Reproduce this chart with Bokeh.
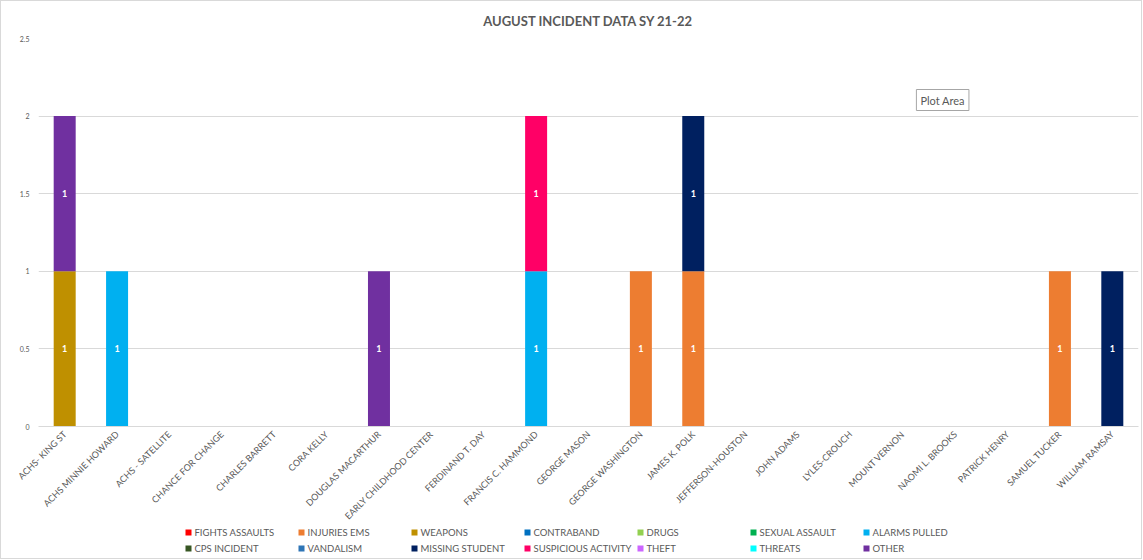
from bokeh.plotting import figure
from bokeh.layouts import column
from bokeh.models import ColumnDataSource, Label, FactorRange, FixedTicker, Range1d
from bokeh.core.properties import value
from bokeh.embed import file_html
from bokeh.resources import INLINE
import math

schools = ["ACHS- KING ST", "ACHS MINNIE HOWARD", "ACHS - SATELLITE", "CHANCE FOR CHANGE",
           "CHARLES BARRETT", "CORA KELLY", "DOUGLAS MACARTHUR", "EARLY CHILDHOOD CENTER",
           "FERDINAND T. DAY", "FRANCIS C. HAMMOND", "GEORGE MASON", "GEORGE WASHINGTON",
           "JAMES K. POLK", "JEFFERSON-HOUSTON", "JOHN ADAMS", "LYLES-CROUCH",
           "MOUNT VERNON", "NAOMI L. BROOKS", "PATRICK HENRY", "SAMUEL TUCKER", "WILLIAM RAMSAY"]

series = ["FIGHTS ASSAULTS", "INJURIES EMS", "WEAPONS", "CONTRABAND", "DRUGS",
          "SEXUAL ASSAULT", "ALARMS PULLED", "CPS INCIDENT", "VANDALISM", "MISSING STUDENT",
          "SUSPICIOUS ACTIVITY", "THEFT", "THREATS", "OTHER"]

colors = ["#FF0000", "#ED7D31", "#BF9000", "#0070C0", "#92D050", "#00B050", "#00B0F0",
          "#375623", "#2E75B6", "#002060", "#FF0066", "#CC66FF", "#00FFFF", "#7030A0"]

#                   KS MH SA CC CB CK DM EC FD FH GM GW JP JH JA LC MV NB PH ST WR
fights_assaults   = [0, 0, 0, 0, 0, 0, 0, 0, 0, 0, 0, 0, 0, 0, 0, 0, 0, 0, 0, 0, 0]
injuries_ems      = [0, 0, 0, 0, 0, 0, 0, 0, 0, 0, 0, 1, 1, 0, 0, 0, 0, 0, 0, 1, 0]
weapons           = [1, 0, 0, 0, 0, 0, 0, 0, 0, 0, 0, 0, 0, 0, 0, 0, 0, 0, 0, 0, 0]
contraband        = [0, 0, 0, 0, 0, 0, 0, 0, 0, 0, 0, 0, 0, 0, 0, 0, 0, 0, 0, 0, 0]
drugs             = [0, 0, 0, 0, 0, 0, 0, 0, 0, 0, 0, 0, 0, 0, 0, 0, 0, 0, 0, 0, 0]
sexual_assault    = [0, 0, 0, 0, 0, 0, 0, 0, 0, 0, 0, 0, 0, 0, 0, 0, 0, 0, 0, 0, 0]
alarms_pulled     = [0, 1, 0, 0, 0, 0, 0, 0, 0, 1, 0, 0, 0, 0, 0, 0, 0, 0, 0, 0, 0]
cps_incident      = [0, 0, 0, 0, 0, 0, 0, 0, 0, 0, 0, 0, 0, 0, 0, 0, 0, 0, 0, 0, 0]
vandalism         = [0, 0, 0, 0, 0, 0, 0, 0, 0, 0, 0, 0, 0, 0, 0, 0, 0, 0, 0, 0, 0]
missing_student   = [0, 0, 0, 0, 0, 0, 0, 0, 0, 0, 0, 0, 1, 0, 0, 0, 0, 0, 0, 0, 1]
suspicious        = [0, 0, 0, 0, 0, 0, 0, 0, 0, 1, 0, 0, 0, 0, 0, 0, 0, 0, 0, 0, 0]
theft             = [0, 0, 0, 0, 0, 0, 0, 0, 0, 0, 0, 0, 0, 0, 0, 0, 0, 0, 0, 0, 0]
threats           = [0, 0, 0, 0, 0, 0, 0, 0, 0, 0, 0, 0, 0, 0, 0, 0, 0, 0, 0, 0, 0]
other             = [1, 0, 0, 0, 0, 0, 1, 0, 0, 0, 0, 0, 0, 0, 0, 0, 0, 0, 0, 0, 0]

values = [fights_assaults, injuries_ems, weapons, contraband, drugs, sexual_assault,
          alarms_pulled, cps_incident, vandalism, missing_student, suspicious, theft,
          threats, other]

y_ticks = [0, 0.5, 1, 1.5, 2, 2.5]

FONT = "Lato"
GREY = "#595959"
GRID = "#d9d9d9"

data = {"school": schools}
keys = []
for i, v in enumerate(values):
    k = "s%d" % i
    keys.append(k)
    data[k] = v
src = ColumnDataSource(data)

p = figure(x_range=FactorRange(*schools, range_padding=0), y_range=(0, 2.5),
           width=1140, height=527, output_backend="svg", toolbar_location=None,
           min_border_left=37, min_border_right=3, min_border_top=36, min_border_bottom=90)

p.title.text = "AUGUST INCIDENT DATA SY 21-22"
p.title.align = "center"
p.title.text_font = FONT
p.title.text_font_size = "13px"
p.title.text_font_style = "bold"
p.title.text_color = GREY
p.title.offset = 0
p.title.standoff = 19

renderers = p.vbar_stack(keys, x="school", width=0.42, color=colors, source=src, line_width=0)

# data labels in the middle of each non-zero segment
lx, ly, lt = [], [], []
for j, s in enumerate(schools):
    base = 0
    for v in values:
        if v[j] > 0:
            lx.append(s)
            ly.append(base + v[j] / 2)
            lt.append(str(v[j]))
        base += v[j]
p.text(x=lx, y=ly, text=lt, text_color="white", text_font=value(FONT), text_font_style="bold",
       text_font_size="9px", text_align="center", text_baseline="middle")

p.outline_line_color = None
p.xgrid.grid_line_color = None
p.ygrid.grid_line_color = GRID
p.ygrid.grid_line_width = 1
p.yaxis.ticker = FixedTicker(ticks=y_ticks)
p.yaxis.axis_line_color = None
p.yaxis.major_tick_line_color = None
p.yaxis.minor_tick_line_color = None
p.yaxis.major_tick_out = 0
p.yaxis.major_tick_in = 0
p.yaxis.major_label_text_font = FONT
p.yaxis.major_label_text_font_size = "7px"
p.yaxis.major_label_text_color = GREY
p.yaxis.major_label_standoff = 9

p.xaxis.axis_line_color = GRID
p.xaxis.major_tick_line_color = None
p.xaxis.minor_tick_line_color = None
p.xaxis.major_tick_out = 0
p.xaxis.major_tick_in = 0
p.xaxis.major_label_orientation = math.pi / 4
p.xaxis.major_label_text_font = FONT
p.xaxis.major_label_text_font_size = "9px"
p.xaxis.major_label_text_color = GREY
p.xaxis.major_label_standoff = 6

tip = Label(x=16.76, y=2.036, text="Plot Area", text_font=FONT, text_font_size="11px",
            text_color=GREY, background_fill_color="white", border_line_color="#a6a6a6",
            padding=4)
p.add_layout(tip)

# legend strip: 7 columns x 2 rows, 113 px per column, 16 px per row.
# Its frame is aligned with the main plot's frame (1100 px wide, starting 150 px
# left of the first legend marker).
ncol = 7
leg_col = [i % ncol for i in range(len(series))]
leg_row = [-(i // ncol) for i in range(len(series))]
leg = figure(width=1140, height=30, output_backend="svg", toolbar_location=None,
             x_axis_type=None, y_axis_type=None,
             x_range=Range1d(-150 / 113, (1100 - 150) / 113),
             y_range=Range1d(0.25 - 30 / 16, 0.25),
             min_border=0, min_border_left=0, min_border_right=0,
             min_border_top=0, min_border_bottom=0)
leg.grid.visible = False
leg.outline_line_color = None
leg.scatter(x=leg_col, y=leg_row, marker="square", size=6, color=colors, line_width=0)
leg.text(x=leg_col, y=leg_row, text=series, x_offset=6, text_font=value(FONT),
         text_font_size="9.5px", text_color=GREY, text_baseline="middle", text_align="left")

layout = column(p, leg, spacing=0, styles={"border": "1px solid #d9d9d9"})

open("out.html", "w").write(file_html(layout, INLINE))
